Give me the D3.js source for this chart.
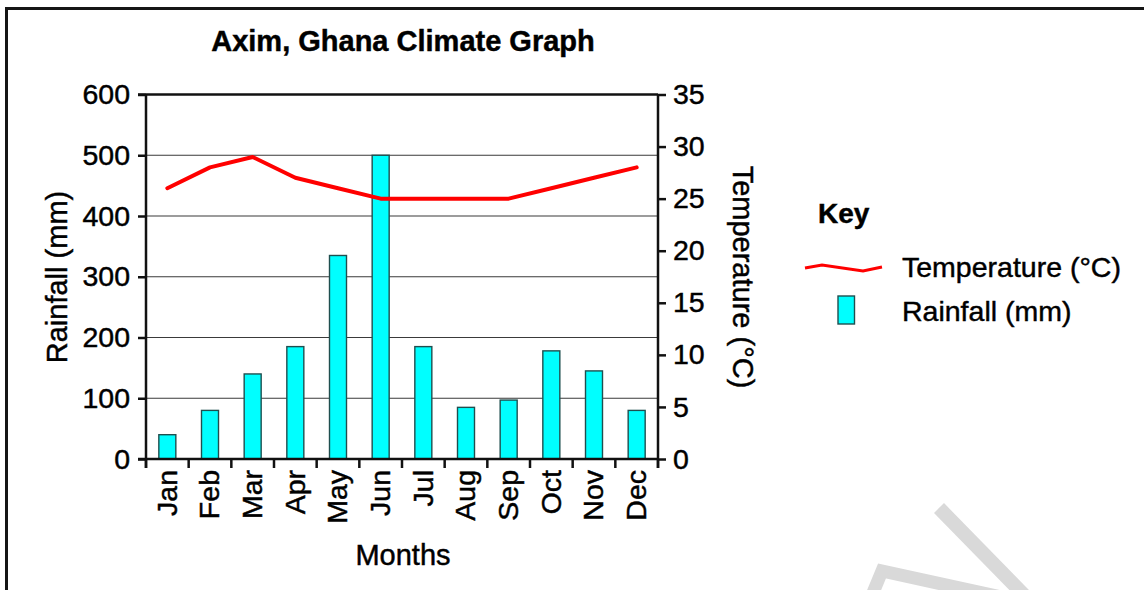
<!DOCTYPE html>
<html>
<head>
<meta charset="utf-8">
<script src="https://cdn.jsdelivr.net/npm/d3@7"></script>
<style>
  html, body { margin: 0; padding: 0; background: #fff; }
  svg { display: block; font-family: "Liberation Sans", Arial, Helvetica, sans-serif; }
  svg text { stroke: #000; stroke-width: 0.45px; fill: #000; }
</style>
</head>
<body>
<svg id="chart" width="1144" height="590"></svg>
<script>
const months = ["Jan","Feb","Mar","Apr","May","Jun","Jul","Aug","Sep","Oct","Nov","Dec"];
const rainfall = [40, 80, 140, 185, 335, 500, 185, 85, 97, 178, 145, 80];
const temperature = [26, 28, 29, 27, 26, 25, 25, 25, 25, 26, 27, 28];
const rainTicks = [0, 100, 200, 300, 400, 500, 600];
const tempTicks = [0, 5, 10, 15, 20, 25, 30, 35];

(function () {
const svg = d3.select("#chart");
const pL = 146, pR = 658, pT = 94.5, pB = 459;
const fs = 28.5;

// frame
svg.append("rect").attr("x", 6.5).attr("y", 8.5).attr("width", 1200).attr("height", 700)
  .attr("fill", "none").attr("stroke", "#151515").attr("stroke-width", 3);

// watermark fragments
svg.append("path").attr("d", "M 939 508 L 1025 596")
  .attr("stroke", "#d9d9d9").attr("stroke-width", 14).attr("fill", "none");
svg.append("path").attr("d", "M 870 600 L 882 571 L 1015 600")
  .attr("stroke", "#d9d9d9").attr("stroke-width", 13).attr("fill", "none").attr("stroke-linejoin", "miter");

const x = d3.scaleBand().domain(months).range([pL, pR]).paddingInner(0).paddingOuter(0);
const yR = d3.scaleLinear().domain([0, 600]).range([pB, pT]);
const yT = d3.scaleLinear().domain([0, 35]).range([pB, pT]);

// gridlines
svg.append("g").selectAll("line").data(rainTicks.filter(d => d > 0 && d < 600)).join("line")
  .attr("x1", pL).attr("x2", pR).attr("y1", d => yR(d)).attr("y2", d => yR(d))
  .attr("stroke", "#3a3a3a").attr("stroke-width", 1.2);

// bars
const barW = 17;
svg.append("g").selectAll("rect").data(rainfall).join("rect")
  .attr("x", (d, i) => x(months[i]) + x.bandwidth() / 2 - barW / 2)
  .attr("width", barW)
  .attr("y", d => yR(d))
  .attr("height", d => yR(0) - yR(d))
  .attr("fill", "#00ffff").attr("stroke", "#1f4f4f").attr("stroke-width", 1.4);

// top border line
svg.append("line").attr("x1", pL - 8).attr("x2", pR).attr("y1", pT).attr("y2", pT)
  .attr("stroke", "#111").attr("stroke-width", 2.5);

// left axis
const gL = svg.append("g").attr("transform", `translate(${pL},0)`)
  .call(d3.axisLeft(yR).tickValues(rainTicks).tickSize(8).tickPadding(8));
// right axis
const gR = svg.append("g").attr("transform", `translate(${pR},0)`)
  .call(d3.axisRight(yT).tickValues(tempTicks).tickSize(8).tickPadding(7));
// bottom axis
const gB = svg.append("g").attr("transform", `translate(0,${pB})`)
  .call(d3.axisBottom(x).tickSize(0).tickPadding(0));

[gL, gR].forEach(g => {
  g.select(".domain").attr("stroke", "#111").attr("stroke-width", 2.5)
    .attr("d", `M0,${pT}V${pB + 9}`);
  g.selectAll(".tick line").attr("stroke", "#111").attr("stroke-width", 2.5);
  g.selectAll(".tick text").attr("font-size", fs).attr("fill", "#000")
    .attr("font-family", "Liberation Sans, Arial, sans-serif");
});
gB.select(".domain").attr("stroke", "#111").attr("stroke-width", 2.5)
  .attr("d", `M${pL - 8},0H${pR}`);
gB.selectAll(".tick line").remove();
// band boundary ticks
const bounds = months.map(m => x(m)).concat([pR]);
svg.append("g").selectAll("line").data(bounds).join("line")
  .attr("x1", d => d).attr("x2", d => d).attr("y1", pB).attr("y2", pB + 9)
  .attr("stroke", "#111").attr("stroke-width", 2.5);

gB.selectAll(".tick text")
  .attr("font-size", fs).attr("fill", "#000")
  .attr("font-family", "Liberation Sans, Arial, sans-serif")
  .attr("text-anchor", "end")
  .attr("transform", "rotate(-90)")
  .attr("x", -11).attr("y", 0).attr("dy", "0.33em");

// temperature line
const line = d3.line().x((d, i) => x(months[i]) + x.bandwidth() / 2).y(d => yT(d));
svg.append("path").datum(temperature).attr("d", line)
  .attr("fill", "none").attr("stroke", "#ff0000").attr("stroke-width", 4)
  .attr("stroke-linejoin", "round").attr("stroke-linecap", "round");

// title and labels
svg.append("text").attr("x", 403).attr("y", 51).attr("text-anchor", "middle")
  .attr("font-size", 29).attr("font-weight", "bold").text("Axim, Ghana Climate Graph");
svg.append("text").attr("transform", "translate(67,277) rotate(-90)").attr("text-anchor", "middle")
  .attr("font-size", 29).text("Rainfall (mm)");
svg.append("text").attr("transform", "translate(733,277) rotate(90)").attr("text-anchor", "middle")
  .attr("font-size", 29).text("Temperature (°C)");
svg.append("text").attr("x", 403).attr("y", 565).attr("text-anchor", "middle")
  .attr("font-size", 29).text("Months");

// legend
svg.append("text").attr("x", 818).attr("y", 223).attr("font-size", 28).attr("font-weight", "bold").text("Key");
svg.append("path").attr("d", "M805,268 L822,265 L863,271 L882,267")
  .attr("fill", "none").attr("stroke", "#ff0000").attr("stroke-width", 3);
svg.append("text").attr("x", 902).attr("y", 277).attr("font-size", 28.5).text("Temperature (°C)");
svg.append("rect").attr("x", 838).attr("y", 296).attr("width", 16.5).attr("height", 28)
  .attr("fill", "#00ffff").attr("stroke", "#1f4f4f").attr("stroke-width", 1.4);
svg.append("text").attr("x", 902).attr("y", 321).attr("font-size", 28.5).text("Rainfall (mm)");
})();
</script>
</body>
</html>
